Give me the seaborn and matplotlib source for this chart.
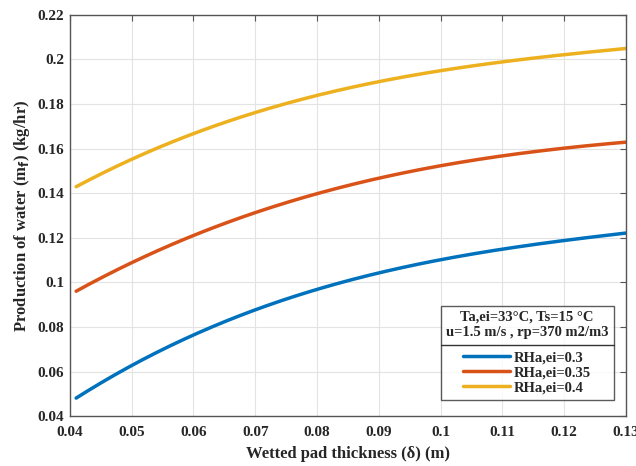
import numpy as np
import pandas as pd
import matplotlib
matplotlib.use("Agg")
import matplotlib.pyplot as plt
import seaborn as sns
from matplotlib.lines import Line2D

thickness = [0.041, 0.05, 0.06, 0.07, 0.08, 0.09, 0.10, 0.11, 0.12, 0.13]
rh_03 = [0.048, 0.063, 0.076, 0.088, 0.097, 0.104, 0.110, 0.115, 0.119, 0.122]
rh_035 = [0.096, 0.109, 0.121, 0.131, 0.140, 0.147, 0.152, 0.157, 0.160, 0.163]
rh_04 = [0.143, 0.155, 0.167, 0.176, 0.184, 0.190, 0.195, 0.199, 0.202, 0.205]
labels = ["RHa,ei=0.3", "RHa,ei=0.35", "RHa,ei=0.4"]
xticks = [0.04, 0.05, 0.06, 0.07, 0.08, 0.09, 0.1, 0.11, 0.12, 0.13]
yticks = [0.04, 0.06, 0.08, 0.1, 0.12, 0.14, 0.16, 0.18, 0.2, 0.22]

# smooth curves through read points
xs = np.linspace(thickness[0], thickness[-1], 200)
frames = []
for lab, ys in zip(labels, [rh_03, rh_035, rh_04]):
    coef = np.polyfit(thickness, ys, 3)
    frames.append(pd.DataFrame({"x": xs, "y": np.polyval(coef, xs), "series": lab}))
df = pd.concat(frames)

sns.set_style("white")
plt.rcParams['font.family'] = ['Liberation Serif', 'DejaVu Serif']
plt.rcParams['font.weight'] = 'bold'

fig = plt.figure(figsize=(6.36, 4.66), dpi=100)
ax = fig.add_axes([0.110, 0.107, 0.874, 0.861])
palette = ["#0072BD", "#D95319", "#EDB120"]
sns.lineplot(data=df, x="x", y="y", hue="series", palette=palette, linewidth=2.5, ax=ax, legend=False)

ax.set_xlim(0.04, 0.13)
ax.set_ylim(0.04, 0.22)
ax.set_xticks(xticks)
ax.set_yticks(yticks)
ax.set_xticklabels([f"{t:g}" for t in xticks], fontsize=11, fontweight='bold')
ax.set_yticklabels([f"{t:g}" for t in yticks], fontsize=11, fontweight='bold')
ax.grid(True, color="#e3e3e3", linewidth=0.8)
ax.tick_params(direction='in', length=4, color="#555555", top=True, right=True)
ax.tick_params(axis='x', pad=7)
ax.tick_params(axis='y', pad=4)
for s in ax.spines.values():
    s.set_color("#555555")
    s.set_linewidth(1.0)
ax.set_xlabel("Wetted pad thickness (\u03b4) (m)", fontsize=12, fontweight='bold', labelpad=5)
ax.set_ylabel("Production of water (m$_{\\mathbf{f}}$) (kg/hr)", fontsize=12, fontweight='bold')

handles = [Line2D([0], [0], color=c, linewidth=2.5) for c in palette]
leg = ax.legend(handles, labels, title="Ta,ei=33\u00b0C, Ts=15 \u00b0C\nu=1.5 m/s , rp=370 m2/m3",
                loc="lower right", bbox_to_anchor=(0.991, 0.023), frameon=True, fancybox=False,
                edgecolor="#333333", fontsize=10.5, title_fontsize=10.5, handlelength=3.2,
                borderpad=0.35, labelspacing=0.12, handletextpad=0.3)
leg.get_frame().set_linewidth(1.0)
leg.get_title().set_fontweight('bold')
leg.get_title().set_multialignment('center')
leg._legend_box.align = "center"
leg._legend_box.sep = 9
for t in leg.get_texts():
    t.set_fontweight('bold')

fig.canvas.draw()
r = fig.canvas.get_renderer()
tb = leg.get_title().get_window_extent(r)
hb = leg._legend_handle_box.get_window_extent(r)
fb = leg.get_frame().get_window_extent(r)
yline = (tb.y0 + hb.y1) / 2
inv = fig.transFigure.inverted()
p0 = inv.transform((fb.x0, yline))
p1 = inv.transform((fb.x1, yline))
fig.add_artist(Line2D([p0[0], p1[0]], [p0[1], p1[1]], color="#333333", linewidth=1.0))

fig.savefig("out.png", dpi=100)
